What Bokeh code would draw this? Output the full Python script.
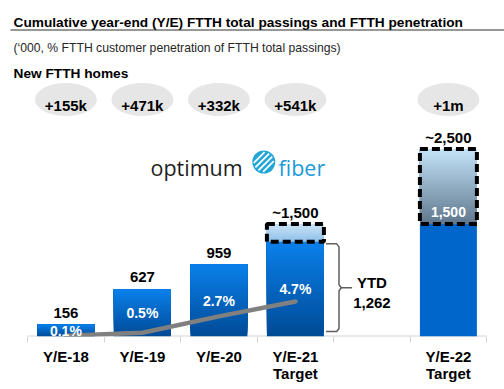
from bokeh.plotting import figure
from bokeh.models import Range1d, FixedTicker, ColumnDataSource
from bokeh.core.properties import value
from bokeh.embed import file_html
from bokeh.resources import INLINE

# ---------------- data ----------------
slots = ["Y/E-18", "Y/E-19", "Y/E-20", "Y/E-21\nTarget", "", "Y/E-22\nTarget"]
years = ["Y/E-18", "Y/E-19", "Y/E-20", "Y/E-21\nTarget", "Y/E-22\nTarget"]
passings = [156, 627, 959, 1262, 1500]          # solid bar ('000)
targets = [None, None, None, 1500, 2500]         # dashed target box top ('000)
top_labels = ["156", "627", "959", "~1,500", "~2,500"]
penetration = [0.1, 0.5, 2.7, 4.7]               # % for Y/E-18 .. Y/E-21
pen_labels = ["0.1%", "0.5%", "2.7%", "4.7%"]
new_homes = ["+155k", "+471k", "+332k", "+541k", "+1m"]
ytd_value = 1262
ytd_label = "1,262"
box_label = "1,500"

title = "Cumulative year-end (Y/E) FTTH total passings and FTTH penetration"
subtitle = "(\u2018000, % FTTH customer penetration of FTTH total passings)"
homes_title = "New FTTH homes"

# ---------------- layout helpers ----------------
W, H = 504, 389
BASE = 336               # px of baseline (frame bottom)
X0, SX = 65.4, 76.5      # px of slot 0 centre, px per slot
SY = 0.075               # px per '000
PCT = 7.45               # px per % point


def xpx(px):
    return (px - X0) / SX


def ypx(py):
    return (BASE - py) / SY


def lerp(c1, c2, t):
    a = [int(c1[i:i + 2], 16) for i in (1, 3, 5)]
    b = [int(c2[i:i + 2], 16) for i in (1, 3, 5)]
    return "#%02x%02x%02x" % tuple(round(a[k] + (b[k] - a[k]) * t) for k in range(3))


F = "Liberation Sans"
xs = [slots.index(y) for y in years]
BW = 0.745

p = figure(width=W, height=H,
           x_range=Range1d(xpx(0), xpx(W)), y_range=Range1d(0, ypx(0)),
           output_backend="svg", toolbar_location=None, y_axis_location=None,
           min_border_left=0, min_border_right=0, min_border_top=0,
           min_border_bottom=H - BASE,
           outline_line_color=None, background_fill_color="white")
p.extra_y_ranges = {"pct": Range1d(0, BASE / PCT)}
p.xgrid.visible = False
p.ygrid.visible = False

ax = p.xaxis[0]
ax.ticker = FixedTicker(ticks=xs, minor_ticks=[i - 0.5 for i in range(len(slots) + 1)])
ax.major_label_overrides = {x: y for x, y in zip(xs, years)}
ax.axis_line_color = None
ax.major_tick_line_color = None
ax.major_tick_out = 0
ax.major_tick_in = 0
ax.minor_tick_line_color = "#d4d4d4"
ax.minor_tick_out = 6
ax.minor_tick_in = 0
ax.major_label_standoff = 5
ax.major_label_text_font = F
ax.major_label_text_font_size = "15px"
ax.major_label_text_font_style = "bold"
ax.major_label_text_color = "black"
ax.major_label_text_line_height = 1.0

# axis line
p.segment(x0=[-0.5], y0=[0], x1=[len(slots) - 0.5], y1=[0], line_color="#d4d4d4", line_width=2)

# ---------------- bars (gradient: overlapping bands, each reaching the bar top) ----------------
N = 30
bands = dict(x=[], bottom=[], top=[], color=[])
for i, (xi, v) in enumerate(zip(xs, passings)):
    if targets[i] is not None and i == len(xs) - 1:
        bands["x"].append(xi); bands["bottom"].append(0); bands["top"].append(v)
        bands["color"].append("#0066cc")
    else:
        for k in range(N):
            bands["x"].append(xi)
            bands["bottom"].append(v * k / N)
            bands["top"].append(v)
            bands["color"].append(lerp("#004a96", "#0a80ea", (k + 0.5) / N))
    if targets[i] is not None:
        if i == len(xs) - 1:
            cb, ct = "#5f778c", "#c4e3f9"
        else:
            cb, ct = "#8cbfea", "#cde5f6"
        t = targets[i]
        for k in range(N):
            bands["x"].append(xi)
            bands["bottom"].append(v + (t - v) * k / N)
            bands["top"].append(t)
            bands["color"].append(lerp(cb, ct, (k + 0.5) / N))
p.vbar(x="x", bottom="bottom", top="top", width=BW, fill_color="color",
       line_color=None, source=ColumnDataSource(bands))

# dashed target outlines
tx = [x for x, t in zip(xs, targets) if t is not None]
tb = [v for v, t in zip(passings, targets) if t is not None]
tt = [t for t in targets if t is not None]
p.vbar(x=tx, bottom=tb, top=tt, width=BW, fill_color=None, line_color="black",
       line_width=4, line_dash="8 4")

# penetration line
p.line(x=xs[:len(penetration)], y=penetration, y_range_name="pct",
       line_color="#808080", line_width=4.5, line_cap="round")

# labels above bars
tops = [t if t is not None else v for v, t in zip(passings, targets)]
p.text(x=xs, y=[t + 12 / SY for t in tops], text=top_labels, text_font=value(F),
       text_font_size="15px", text_font_style="bold", text_color="black",
       text_align="center", text_baseline="middle")

# penetration labels inside bars
p.text(x=xs[:len(pen_labels)], y=[v / 2 for v in passings[:len(pen_labels)]], text=pen_labels,
       text_font=value(F), text_font_size="14px", text_font_style="bold", text_color="white",
       text_align="center", text_baseline="middle")

# label inside the Y/E-22 target box
p.text(x=[xs[-1]], y=[passings[-1] + 12 / SY], text=[box_label], text_font=value(F),
       text_font_size="14px", text_font_style="bold", text_color="white",
       text_align="center", text_baseline="middle")

# YTD bracket
bx = xs[3]
x0, x1, x2 = bx + 0.40, bx + 0.57, bx + 0.74
btop, bbot = ytd_value - 2 / SY, 5 / SY
mid = (btop + bbot) / 2
dy, dx = 3 / SY, 0.03
p.multi_line(xs=[[x0, x1 - dx, x1, x1, x1 + dx, x2],
                 [x1 + dx, x1, x1, x1 - dx, x0]],
             ys=[[btop, btop, btop - dy, mid + dy, mid, mid],
                 [mid, mid - dy, bbot + dy, bbot, bbot]],
             line_color="#5f5f5f", line_width=1.5)
gap = slots.index("")
p.text(x=[gap, gap], y=[mid + 5 / SY, mid - 15 / SY], text=["YTD", ytd_label],
       text_font=value(F), text_font_size="15px", text_font_style="bold", text_color="black",
       text_align="center", text_baseline="middle")

# ---------------- new homes bubbles ----------------
p.ellipse(x=xs, y=[ypx(99)] * len(xs), width=62, height=33, width_units="screen",
          height_units="screen", fill_color="#e6e6e6", line_color=None)
p.text(x=xs, y=[ypx(105)] * len(xs), text=new_homes, text_font=value(F),
       text_font_size="15px", text_font_style="bold", text_color="black",
       text_align="center", text_baseline="alphabetic")

# ---------------- header texts ----------------
p.text(x=[xpx(13)], y=[ypx(22)], text=[title], text_font=value(F), text_font_size="13.7px",
       text_font_style="bold", text_color="black", text_align="left", text_baseline="alphabetic")
p.segment(x0=[xpx(10)], y0=[ypx(29.5)], x1=[xpx(W)], y1=[ypx(29.5)],
          line_color="#303030", line_width=1)
p.text(x=[xpx(13)], y=[ypx(47)], text=[subtitle], text_font=value(F), text_font_size="12.2px",
       text_color="#262626", text_align="left", text_baseline="alphabetic")
p.text(x=[xpx(13)], y=[ypx(73)], text=[homes_title], text_font=value(F), text_font_size="13.7px",
       text_font_style="bold", text_color="black", text_align="left", text_baseline="alphabetic")

# ---------------- logo ----------------
p.text(x=[xpx(150)], y=[ypx(167)], text=["optimum"], text_font=value("Open Sans"),
       text_font_size="21.5px", text_color="#1e1e1e", text_align="left", text_baseline="alphabetic")
cx, cy, r = 263.3, 161.5, 11.5
p.scatter(x=[xpx(cx)], y=[ypx(cy)], size=2 * r, marker="circle", fill_color="#22a6d6",
          line_color=None)
sx0, sy0, sx1, sy1 = [], [], [], []
for d in (-6.5, -2.2, 2.2, 6.5):
    h = (max(r - 1.5, 0) ** 2 - d ** 2) ** 0.5
    nx, ny = d / 2 ** 0.5, d / 2 ** 0.5
    ux, uy = h / 2 ** 0.5, -h / 2 ** 0.5
    sx0.append(xpx(cx + nx - ux)); sy0.append(ypx(cy + ny - uy))
    sx1.append(xpx(cx + nx + ux)); sy1.append(ypx(cy + ny + uy))
p.segment(x0=sx0, y0=sy0, x1=sx1, y1=sy1, line_color="white", line_width=1.8)
p.text(x=[xpx(278)], y=[ypx(167)], text=["fiber"], text_font=value("Open Sans"),
       text_font_size="21.5px", text_color="#1d9ad8", text_align="left", text_baseline="alphabetic")

open("out.html", "w").write(file_html(p, INLINE))
